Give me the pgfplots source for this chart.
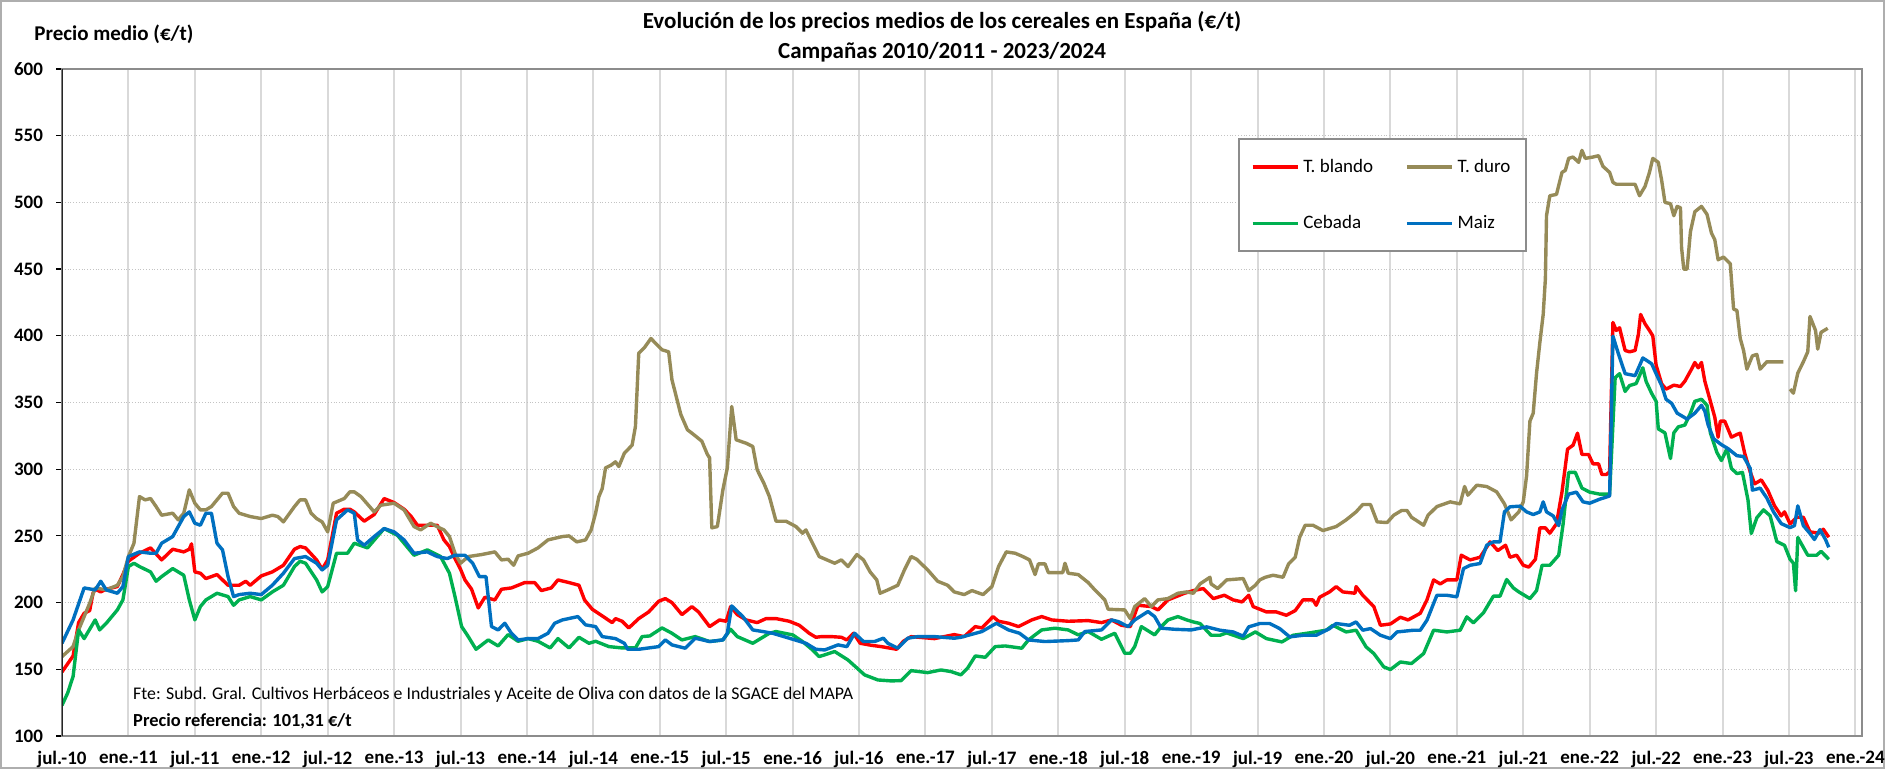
\documentclass[border=0pt]{standalone}
\usepackage{fontspec}
\setmainfont{Carlito}
\usepackage{pgfplots}
\pgfplotsset{compat=1.18}
\definecolor{cred}{HTML}{FF0000}
\definecolor{colive}{HTML}{968B58}
\definecolor{cgreen}{HTML}{00B050}
\definecolor{cblue}{HTML}{0070C0}
\definecolor{gridc}{HTML}{D9D9D9}
\definecolor{framec}{HTML}{8C8C8C}
\begin{document}
\begin{tikzpicture}[x=1pt,y=1pt]
\useasboundingbox (0,0) rectangle (942.5,384.5);
\draw[framec!70, line width=0.6pt] (0.5,0.5) rectangle (942,384);
\node[font=\bfseries\fontsize{11.5}{13}\selectfont] at (471,373.5) {Evolución de los precios medios de los cereales en España (€/t)};
\node[font=\bfseries\fontsize{11.5}{13}\selectfont] at (471,358.5) {Campañas 2010/2011 - 2023/2024};
\node[anchor=west, inner sep=0pt, font=\bfseries\fontsize{10.5}{12}\selectfont] at (17,367.5) {Precio medio (€/t)};
\begin{axis}[
  at={(31pt,16.5pt)}, anchor=south west,
  scale only axis, width=900pt, height=333.5pt,
  xmin=0, xmax=162.6, ymin=100, ymax=600,
  xtick={0,6,...,162},
  xticklabels={jul.-10,ene.-11,jul.-11,ene.-12,jul.-12,ene.-13,jul.-13,ene.-14,jul.-14,ene.-15,jul.-15,ene.-16,jul.-16,ene.-17,jul.-17,ene.-18,jul.-18,ene.-19,jul.-19,ene.-20,jul.-20,ene.-21,jul.-21,ene.-22,jul.-22,ene.-23,jul.-23,ene.-24},
  ytick={100,150,...,600},
  /pgf/number format/assume math mode=true,
  yticklabel style={font=\bfseries\fontsize{9.5}{11}\selectfont, xshift=-3pt},
  xticklabel style={font=\bfseries\fontsize{9.5}{11}\selectfont, yshift=-1pt},
  xtick style={draw=none},
  ytick pos=left,
  tick align=outside,
  major tick length=3pt,
  ytick style={black, line width=0.6pt},
  xmajorgrids, ymajorgrids,
  x grid style={gridc, line width=1pt},
  y grid style={gridc!90!black, densely dotted, line width=0.5pt},
  axis line style={framec, line width=0.8pt},
  unbounded coords=jump,
  every axis plot/.append style={line width=1.7pt, line join=round},
  legend columns=2,
  legend cell align=left,
  legend image code/.code={\draw[#1] (0pt,0pt) -- (22.5pt,0pt);},
  legend style={at={(rel axis cs:0.6533,0.8966)}, anchor=north west,
    draw=framec, line width=1pt, fill=white,
    inner xsep=6pt, inner ysep=8pt,
    row sep=16pt,
    font=\fontsize{9.5}{11}\selectfont,
    /tikz/column 2/.style={column sep=14pt}},
]
\addplot[cred] coordinates {
(0,148) (0.5,154) (1,160) (1.5,185) (2,192) (2.5,194) (2.8,207) (3,210) (3.5,208) (4,210) (5,212) (5.5,221) (6,231) (7,237) (8,241) (9,232) (10,240) (11,238) (11.5,240) (11.7,244) (12,223) (12.5,222) (13,218) (14,221) (15,213) (16,213) (16.6,216) (17,213) (18,220) (19,223) (20,228) (21,240) (21.5,242) (22,241) (23,232) (23.5,225) (24,232) (24.8,267) (25.5,270) (26,270) (26.4,268) (27.3,261) (28.2,266) (29.1,278) (30,275) (30.9,270) (31.5,265) (32.1,258) (33,258) (33.9,258) (34.5,247) (35,242) (35.5,233) (36,225) (36.4,217) (37,210) (37.6,196) (38.2,204) (39.1,202) (39.7,210) (40.6,211) (41.8,215) (42.7,215) (43.3,209) (44.2,211) (44.8,217) (45.8,215) (46.7,213) (47.2,202) (47.9,195) (48.8,190) (49.7,185) (50,188) (50.6,186) (51.2,181) (52.1,188) (53,193) (53.9,201) (54.5,203) (55.1,200) (56,191) (56.9,197) (57.5,193) (58.5,182) (59.4,187) (60,186) (60.4,197) (61,191) (61.8,187) (62.8,185) (63.6,188) (64.5,188) (65.7,186) (66.6,183) (67.5,177) (68.1,174) (68.6,174.5) (69.5,174.5) (70.4,174) (70.9,172) (71.5,177) (72.1,169.5) (73.1,168) (74,167) (75.4,165) (76,171) (76.7,174.5) (78.8,173) (80.6,176) (81.5,174.5) (82.5,182) (83.1,181) (84.1,189.5) (84.6,186) (85.5,184.5) (86.4,182) (87.6,187) (88.5,189.5) (89.4,187) (90.9,186) (92.7,186.5) (93.9,185) (94.8,187) (95.7,183) (96.5,182) (97.2,198) (98.4,197) (99,194.5) (99.9,202) (101.4,207) (102.2,209) (103.1,210.5) (104,203) (105,205.5) (105.8,202) (106.6,200.5) (107.2,205.5) (107.6,197) (108.8,193) (109.7,193) (110.6,190.5) (111.4,194) (112.1,202) (113,202) (113.3,198) (113.6,204) (114.5,208) (115.1,212) (115.7,208) (116.8,207) (116.9,212) (117.5,205.5) (118.5,197) (119.1,183) (120,184) (120.9,189) (121.6,187) (122.7,192) (123.3,202) (123.9,217) (124.5,214) (125.1,217) (126,217) (126.4,235.5) (127.2,232) (128.1,234) (129,245.5) (129.7,239) (130.4,243) (130.8,234) (131.4,235.5) (132,228) (132.5,226.6) (133.1,232.5) (133.5,256) (134,256) (134.4,252) (135,259) (135.5,283) (136,315) (136.5,318) (136.9,327) (137.3,311) (137.9,311) (138.3,304) (138.8,304) (139.1,296) (139.5,296) (139.8,298) (140.1,410) (140.4,404) (140.7,406) (141.2,389) (141.6,388) (142.1,389) (142.4,401) (142.6,416) (143,409) (143.4,404) (143.7,400) (144,378) (144.5,364) (144.9,360) (145.6,363) (146.2,362) (146.6,366) (147.2,375) (147.5,380) (147.8,376) (148.1,380) (148.4,366) (148.9,351) (149.3,339) (149.6,324) (149.8,336) (150.2,336) (150.8,324) (151.3,326) (151.6,327) (152,312) (152.5,298) (152.9,289) (153.5,292) (154.1,284) (154.7,272.5) (155.3,265) (155.6,268) (156.1,259) (156.7,264) (157.3,264) (157.9,253) (158.7,252) (159.1,255) (159.6,249)
};
\addlegendentry{T. blando}
\addplot[colive] coordinates {
(0,159.5) (1,167) (1.5,179.5) (2,189.5) (2.5,199.5) (3,211) (4,209.5) (5,213) (5.5,219.5) (6,234.5) (6.5,244.5) (7,279.5) (7.5,277) (8,278) (8.5,272) (9,265.5) (10,267) (10.5,262) (11,267) (11.5,284.5) (12,274.5) (12.5,269.5) (13,269.5) (13.5,272) (14,277) (14.5,282) (15,282) (15.5,272) (16,267) (17,264.5) (18,263) (19,265.5) (19.5,264.5) (20,260.5) (21,272) (21.5,277) (22,277) (22.5,267) (23,263) (23.5,260.5) (24,253) (24.5,274.5) (25.5,278) (26,283) (26.4,283) (27,279.5) (28.2,268) (28.8,273) (30,274.5) (30.9,269.5) (31.8,257) (32.4,254.5) (33.3,259.5) (34.1,256) (34.5,254.5) (35,249.5) (35.5,237) (36,229.5) (36.7,234.5) (37.9,236) (39.1,238) (39.7,232) (40.3,232.5) (40.8,228) (41.2,235) (42.1,237) (43,241) (43.9,247) (45.2,249.5) (45.8,250) (46.5,245.5) (47.3,247) (47.8,254.5) (48.2,267) (48.5,279.5) (48.8,285.5) (49.1,301) (49.6,303) (50,305.5) (50.3,302) (50.8,312) (51.5,318) (51.8,332) (52.1,387) (52.6,391) (53.2,398) (53.6,394.5) (54.2,389.5) (54.8,388) (55.1,367) (55.9,341) (56.5,329.5) (56.9,327) (57.8,321) (58.3,311) (58.5,308.5) (58.7,256) (59.2,257) (59.7,284.5) (60.1,301) (60.5,347) (60.9,322) (61.8,319.5) (62.4,317) (62.8,299.5) (63.4,289.5) (63.9,279.5) (64.5,261) (65.4,261) (66.3,257) (66.9,252) (67.2,254.5) (67.8,244.5) (68.4,234.5) (69.8,229.5) (70.4,232) (71,227) (71.8,236) (72.4,232) (73,223) (73.6,217) (73.9,207) (74.6,209.5) (75.5,213) (76.1,224.5) (76.7,234.5) (77.2,232.5) (78.2,224.5) (79.1,216) (80,213) (80.6,208) (81.5,206) (82.2,209) (83.2,206) (84,212) (84.6,227) (85.3,238) (86.1,237) (86.8,234.5) (87.4,232) (87.9,221) (88.2,229) (88.8,229) (89.1,222.5) (90.4,222.5) (90.6,229.5) (90.9,222) (91.8,221) (92.7,215) (93.3,209.5) (94.2,202) (94.5,195) (96,194.5) (96.5,188) (96.9,197) (97.8,203) (98.4,197) (99,202) (99.9,203) (100.8,207) (101.6,208) (102.2,207) (102.8,214) (103.7,219) (103.8,214) (104.4,210.5) (105.2,217) (106.7,218) (107.2,209) (107.8,213) (108.2,217) (108.7,219) (109.4,220.5) (110.3,219) (110.8,229) (111.4,234) (111.8,249) (112.3,258) (113,258) (113.9,254) (115.1,257) (116,262) (116.9,268) (117.5,273.5) (118.2,273.5) (118.8,260.5) (119.7,260) (120.3,265.5) (121,269) (121.5,269) (121.9,264) (123,258) (123.4,265.5) (124.2,272) (125.4,275.5) (126.3,274) (126.7,287) (127,280.5) (127.8,288) (128.7,287) (129.6,283) (130.3,274) (130.9,262) (131.6,268) (132,275.5) (132.3,295) (132.6,336) (132.9,342) (133.2,372) (133.5,395) (133.8,416) (134,443) (134.1,490) (134.4,505) (135,506) (135.5,522.5) (135.8,524) (136.1,533) (136.5,534) (137,530) (137.3,539) (137.6,533) (138.3,534) (138.8,535) (139.2,527) (139.8,522.5) (140.1,515) (140.4,513.6) (141.3,513.6) (142.1,513.6) (142.5,505) (143,512) (143.4,522.5) (143.7,533) (144.2,530) (144.5,516.6) (144.8,500) (145.3,499) (145.6,490) (145.9,497) (146.2,496) (146.3,466) (146.5,450) (146.8,450) (147.1,478) (147.5,493) (148.1,497) (148.6,491) (149,477) (149.3,472) (149.6,457) (150.1,459) (150.7,454) (151,420) (151.3,419) (151.6,398) (151.9,389) (152.2,375) (152.7,385) (153.1,386) (153.4,375) (154,380.5) (155.5,380.5) (155.8,nan) (156.1,360) (156.4,357) (156.8,372) (157.3,380.5) (157.7,388) (157.9,414.5) (158.4,404) (158.6,390) (158.9,402.6) (159.5,405.6)
};
\addlegendentry{T. duro\hspace{4pt}}
\addplot[cgreen] coordinates {
(0,123) (0.5,132) (1,144.5) (1.5,179.5) (2,173) (3,187) (3.4,179.5) (4,184.5) (5,194.5) (5.5,202) (6,227) (6.5,229.5) (7,227) (8,223) (8.5,216) (9,219.5) (10,225.5) (11,220.5) (11.5,202) (12,187) (12.5,197) (13,202) (14,207) (15,204.5) (15.5,198) (16,202) (17,204.5) (18,202) (19,208) (20,213) (21,227) (21.5,231) (22,229.5) (23,217) (23.5,208) (24,212) (24.8,237) (25.8,237) (26.4,244.5) (27.6,241) (29.1,255.5) (30.3,250.5) (31.8,235.5) (33,239.5) (34.2,234.5) (35,222) (35.5,204.5) (36.1,182) (36.7,174.5) (37.4,165) (38.5,172) (39.4,167.5) (40.3,176) (41.2,171) (42.1,173) (43,171) (44.1,166) (44.8,173) (45.8,166) (46.7,174) (47.6,169.5) (48.2,171) (49.4,167) (50.6,166) (51.8,166) (52.4,174.5) (53.1,175) (54.2,181) (55.1,177) (56,172) (57.2,174.5) (58.5,170.8) (59.7,172) (60.4,180) (61,174.5) (62.4,169.5) (63.9,177) (64.5,178.3) (66,175.8) (66.9,170.8) (67.8,164.5) (68.4,159.5) (69.8,163.3) (71,157) (72.5,145.8) (73.7,142) (74.9,141.3) (75.8,141.5) (76.7,149) (78.2,147.5) (79.4,149.5) (80.3,148.3) (81.2,145.8) (81.8,150.8) (82.5,160) (83.4,159) (84.3,167) (85.2,167.5) (86.7,165.8) (87.3,172) (88.5,179.5) (89.7,180.8) (90.9,179.5) (91.8,175.8) (92.7,178.3) (93.9,172.5) (95.1,177) (96,162) (96.5,162) (96.9,167) (97.5,182) (98.7,175.8) (99.3,182) (99.9,187) (100.8,189.5) (101.6,187) (102.2,185.5) (102.8,184.3) (103.8,175.5) (104.6,175.5) (105.2,177.3) (106.7,173) (107.8,178) (108.8,173) (110.2,170.5) (111.2,175.5) (112.7,177.3) (114.2,179.3) (114.8,183) (116,178) (116.9,179.3) (117.8,166.8) (118.5,161.8) (119.4,151.8) (120,149.8) (120.9,155.5) (121.9,154.3) (123,161.8) (123.9,179.3) (125.1,178) (126.3,179.3) (126.9,189.3) (127.5,184.8) (128.4,192.3) (129.3,204.8) (129.9,204.8) (130.5,217.3) (131.1,211) (131.6,208) (132,206) (132.6,203) (133.2,209) (133.7,228) (134.4,228) (135.2,235.5) (135.6,259) (136.1,297.6) (136.7,297.6) (137.3,285.8) (138,282.8) (138.9,281.3) (139.8,281.3) (140.3,368.6) (140.7,371.6) (141.2,358.3) (141.6,362.7) (142.2,364.2) (142.8,376) (143.1,365.7) (143.6,356.8) (144,350.9) (144.2,330.2) (144.8,327.2) (145.3,308) (145.6,327.2) (146,331.7) (146.6,333.1) (147.1,342) (147.5,350.9) (148.1,352.4) (148.6,347.9) (148.9,327.2) (149.5,312.4) (149.9,306.5) (150.4,315.4) (150.8,300.6) (151.3,296.7) (151.8,297.6) (152.3,276.9) (152.6,251.8) (153.1,263.6) (153.7,269.5) (154.3,265.1) (154.9,245.8) (155.6,242.9) (156.1,232.5) (156.4,229.6) (156.6,208.9) (156.8,248.8) (157.3,241.4) (157.7,235.5) (158.5,235.5) (158.9,238.4) (159.6,232.5)
};
\addlegendentry{Cebada}
\addplot[cblue] coordinates {
(0,169.5) (1,187) (2,211) (3,209.5) (3.5,216) (4,209.5) (5,207) (5.5,212) (6,234.5) (7,238) (8,237) (8.5,237) (9,244.5) (10,249.5) (10.5,257) (11,264.5) (11.5,268) (12,259.5) (12.5,258) (13,267) (13.5,267) (14,244.5) (14.5,239.5) (15,219.5) (15.5,204.5) (16,206) (17,207) (18,206) (19,213) (20,222) (21,233) (22,234.5) (23,229.5) (23.5,224.5) (24,228) (24.8,262) (25.8,269.5) (26.4,267) (26.7,247) (27.3,243) (28.2,249.5) (29.1,255.5) (30,253) (30.9,247) (31.8,237) (33,238) (33.9,234.5) (34.8,233) (35.5,235.5) (36.4,235.5) (37.1,229.5) (37.7,219.5) (38.3,219.5) (38.8,182) (39.4,179.5) (40,184.5) (40.6,177) (41.2,172) (42.1,173) (43,173) (43.9,177) (44.5,184.5) (45.2,187) (46.6,189.5) (47.3,183.3) (48.2,182) (48.8,174.5) (50,173) (50.8,169.5) (51.1,165) (52.1,165) (53.9,167) (54.5,172) (55.1,168.3) (56.3,165.8) (57.2,173.3) (58.5,170.8) (59.7,172) (60.1,177) (60.5,197.5) (61.5,189.5) (62.4,179.5) (63.3,178.3) (64.2,177) (65.7,173.3) (67.2,169.5) (68.1,165) (68.9,164.5) (70.1,168.3) (70.9,167) (71.6,177) (72.4,170.8) (73.4,170.8) (74.2,173.3) (74.6,169.5) (75.5,165.8) (76.4,173.3) (77.3,174.5) (78.8,174.5) (80.6,173.3) (81.2,174) (83.1,178.3) (84.4,184.5) (85.5,179.5) (86.5,177) (87.3,172) (88.8,170.8) (90.9,171.5) (91.8,172) (92.4,178.3) (93.9,179.5) (94.8,187) (95.4,185.8) (96.3,182) (96.9,187) (98.1,193.3) (98.7,189.5) (99.3,180.8) (100.5,180) (102,179.5) (103.4,181.8) (104.6,179.3) (105.8,178) (106.7,174.8) (107.2,181.8) (108.2,184.3) (109.1,184.3) (110,180.5) (110.9,174.3) (112.1,175.5) (113.3,175.5) (114.5,180.5) (115.1,184.3) (116.3,183) (116.9,185.5) (117.5,179.3) (118.2,180.5) (119.1,175.5) (120,173) (120.6,178) (122.1,179.3) (122.7,179.3) (123.3,186.8) (123.9,199.3) (124.2,205.5) (125.1,205.5) (126,204.3) (126.6,225.5) (127.2,228) (128.1,229.3) (128.7,243) (129.3,245.5) (129.9,245.5) (130.3,268) (130.8,271.8) (131.7,272.3) (132.3,268) (132.9,266) (133.5,268) (133.8,275.5) (134.1,268) (134.7,265) (135.2,257.7) (135.5,269.5) (136.1,281.3) (136.8,282.8) (137.4,275.5) (138,274.5) (138.9,277.5) (139.8,279.9) (140.1,399.7) (140.6,386.4) (141.2,371.6) (142.1,370.1) (142.5,377.5) (142.8,383.4) (143.6,379) (144,371.6) (144.5,362.7) (144.9,352.4) (145.4,349.4) (145.9,342) (146.8,337.6) (147.5,342) (148.1,347.9) (148.4,343.5) (148.7,333.1) (149.2,322.8) (149.9,318.4) (150.5,315.4) (151.3,310.1) (151.9,309.5) (152.5,300.6) (152.7,284.3) (153.4,285.8) (154,278.4) (154.6,268.1) (155.3,259.2) (156.1,256.2) (156.5,257.7) (156.8,272.5) (157.3,257.7) (157.9,251.8) (158.3,247.3) (158.8,254.7) (159.3,247.3) (159.6,241.4)
};
\addlegendentry{Maiz}
\node[anchor=west, inner sep=0pt, font=\fontsize{8.9}{10}\selectfont] at (axis cs:6.4,130.7) {Fte: Subd. Gral. Cultivos Herbáceos e Industriales y Aceite de Oliva con datos de la SGACE del MAPA};
\node[anchor=west, inner sep=0pt, font=\bfseries\fontsize{9.2}{10}\selectfont] at (axis cs:6.4,111) {Precio referencia: 101,31 €/t};
\draw[black!85, line width=1pt] (rel axis cs:0,0) -- (rel axis cs:0,1);
\end{axis}
\end{tikzpicture}
\end{document}
